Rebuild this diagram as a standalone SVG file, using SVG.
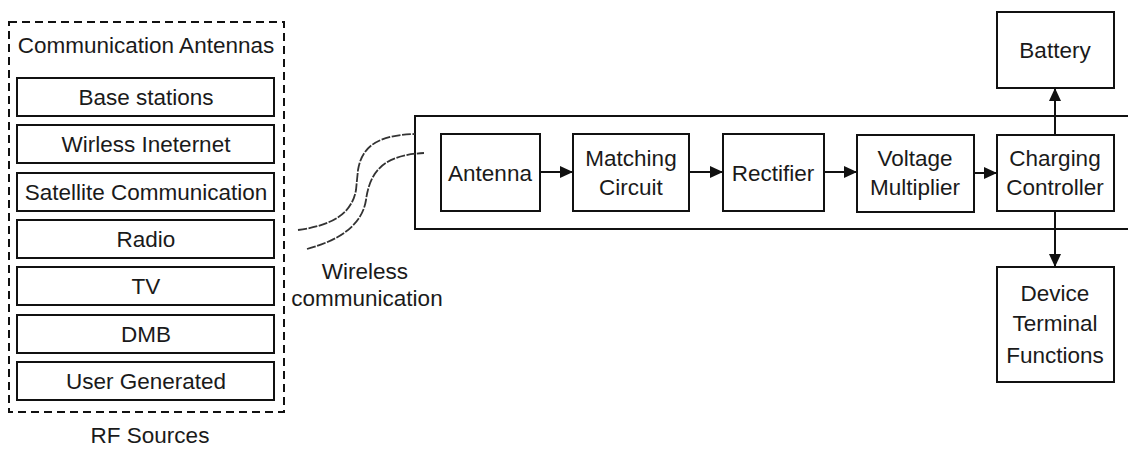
<svg xmlns="http://www.w3.org/2000/svg" width="1128" height="449" viewBox="0 0 1128 449">
<style>
text{font-family:"Liberation Sans",Arial,sans-serif;font-size:22.5px;fill:#1a1a1a;text-anchor:middle}
.b{fill:#fff;stroke:#111;stroke-width:2}
.c{fill:none;stroke:#111;stroke-width:2}
.w{fill:none;stroke:#333;stroke-width:1.8;stroke-dasharray:9,1.5}
</style>
<defs>
<marker id="ah" viewBox="0 0 13 12" refX="13" refY="6" markerWidth="13" markerHeight="12" markerUnits="userSpaceOnUse" orient="auto">
<path d="M0,0L13,6L0,12z" fill="#111"/>
</marker>
</defs>
<rect width="1128" height="449" fill="#fff"/>
<g id="rf-sources">
<rect x="9" y="22" width="275" height="390" fill="none" stroke="#111" stroke-width="2" stroke-dasharray="8,5"/>
<text x="146" y="53">Communication Antennas</text>
<text x="150" y="443">RF Sources</text>
</g>
<g id="base-stations"><rect class="b" x="17" y="78" width="257" height="38"/><text x="146" y="105">Base stations</text></g>
<g id="wireless-internet"><rect class="b" x="17" y="125" width="257" height="38"/><text x="146" y="152">Wirless Ineternet</text></g>
<g id="satellite"><rect class="b" x="17" y="173" width="257" height="38"/><text x="146" y="200">Satellite Communication</text></g>
<g id="radio"><rect class="b" x="17" y="220" width="257" height="38"/><text x="146" y="247">Radio</text></g>
<g id="tv"><rect class="b" x="17" y="267" width="257" height="38"/><text x="146" y="294">TV</text></g>
<g id="dmb"><rect class="b" x="17" y="315" width="257" height="38"/><text x="146" y="342">DMB</text></g>
<g id="user-generated"><rect class="b" x="17" y="362" width="257" height="38"/><text x="146" y="389">User Generated</text></g>
<g id="receiver"><rect class="c" x="415" y="116" width="720" height="113"/></g>
<g id="wireless-label">
<path class="w" d="M298,230 C335,225 352,212 356,190 L358,170 C362,145 380,135 415,134"/>
<path class="w" d="M307,249 C340,240 362,225 366,200 C370,170 385,155 424,153"/>
<text x="365" y="279">Wireless</text>
<text x="367" y="306">communication</text>
</g>
<g id="antenna"><rect class="b" x="441" y="134" width="99" height="77"/><text x="490" y="181">Antenna</text></g>
<g id="matching"><rect class="b" x="573" y="134" width="116" height="77"/><text x="631" y="166">Matching</text><text x="631" y="195">Circuit</text></g>
<g id="rectifier"><rect class="b" x="723" y="134" width="101" height="77"/><text x="773" y="181">Rectifier</text></g>
<g id="voltage"><rect class="b" x="857" y="135" width="117" height="77"/><text x="915" y="166">Voltage</text><text x="915" y="195">Multiplier</text></g>
<g id="charging"><rect class="b" x="997" y="135" width="117" height="76"/><text x="1055" y="166">Charging</text><text x="1055" y="195">Controller</text></g>
<g id="battery"><rect class="b" x="997" y="12" width="117" height="76"/><text x="1055" y="58">Battery</text></g>
<g id="device"><rect class="b" x="997" y="267" width="117" height="115"/><text x="1055" y="301">Device</text><text x="1055" y="331">Terminal</text><text x="1055" y="363">Functions</text></g>
<g id="connectors" fill="none" stroke="#111" stroke-width="2">
<line x1="540" y1="172" x2="573" y2="172" marker-end="url(#ah)"/>
<line x1="689" y1="172" x2="723" y2="172" marker-end="url(#ah)"/>
<line x1="824" y1="172" x2="857" y2="172" marker-end="url(#ah)"/>
<line x1="974" y1="173" x2="997" y2="173" marker-end="url(#ah)"/>
<line x1="1055" y1="135" x2="1055" y2="88" marker-end="url(#ah)"/>
<line x1="1055" y1="211" x2="1055" y2="267" marker-end="url(#ah)"/>
</g>
</svg>
